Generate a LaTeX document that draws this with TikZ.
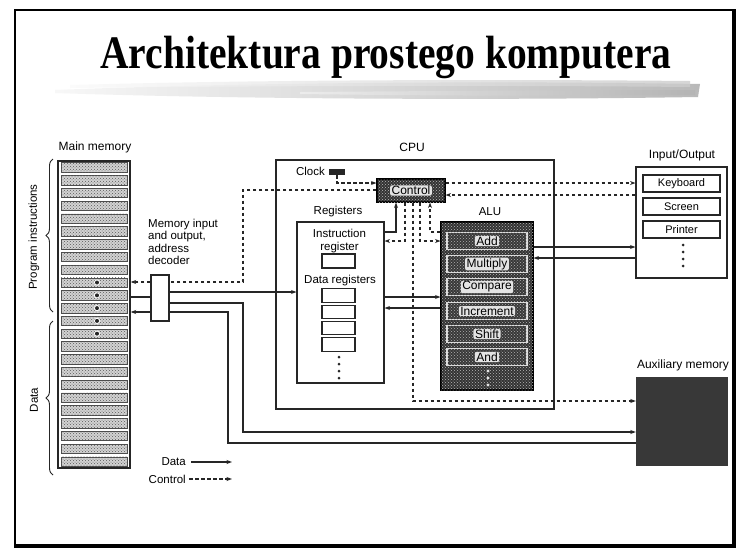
\documentclass[tikz,border=0pt]{standalone}
\usepackage{graphicx}
\usepackage{fontspec}
\setmainfont{Liberation Sans}
\newfontfamily\titlefont{Liberation Serif}
\usetikzlibrary{arrows.meta,patterns,decorations.pathreplacing,calc}
\begin{document}
\begin{tikzpicture}[x=1pt,y=-1pt,
  >={Stealth[length=5.5pt,width=4pt]},
  ln/.style={line width=1.1pt, draw=black!85},
  ctl/.style={ln, dash pattern=on 3.5pt off 2.5pt},
  lab/.style={font=\fontsize{12}{14}\selectfont, inner sep=0pt},
  sm/.style={font=\fontsize{11.5}{12.6}\selectfont, inner sep=0pt},
  box/.style={draw=black!85, line width=1.1pt, inner sep=0pt, fill=white},
  dark/.style={draw=black, line width=1.1pt, inner sep=0pt, fill=black!80,
     postaction={pattern=crosshatch dots, pattern color=gray!55}},
  aluop/.style={draw=gray!25, line width=1.4pt, fill=black!78, inner sep=0pt,
     minimum width=80pt, minimum height=17pt,
     postaction={pattern=crosshatch dots, pattern color=gray!60}},
  optext/.style={fill=gray!22, rounded corners=2pt, inner xsep=1.5pt, inner ysep=0.8pt,
     font=\fontsize{12}{13}\selectfont},
  cell/.style={draw=black!70, line width=0.6pt, fill=gray!35,
     postaction={pattern=crosshatch dots, pattern color=black!65}},
  dotm/.style={fill=black!85}
]
\useasboundingbox (0,0) rectangle (747,555);
\fill[white] (0,0) rectangle (747,555);

% frame
\draw[line width=1.8pt] (15,10) rectangle (733,545);
\draw[line width=3.5pt] (734,9) -- (734,546.5) -- (14,546.5);

% brush stroke
\shade[left color=gray!6, right color=gray!55] (55,90) .. controls (200,84) and (450,80) .. (700,84) -- (698,97) .. controls (450,101) and (200,98) .. (55,93) -- cycle;
\shade[left color=gray!4, right color=gray!40, opacity=0.8] (70,85) .. controls (250,80) and (480,79) .. (690,81) -- (690,87) .. controls (480,85) and (250,86) .. (70,88) -- cycle;
\shade[left color=gray!10, right color=gray!60, opacity=0.7] (300,92) .. controls (450,91) and (560,90) .. (695,90) -- (695,95) .. controls (560,96) and (450,96) .. (300,94) -- cycle;

% title
\node[font=\titlefont\bfseries\fontsize{39.5}{40}\selectfont, inner sep=0pt, anchor=base] (title) at (386,68) {\scalebox{1}[1.18]{Architektura prostego komputera}};

% main memory
\node[lab] (meml) at (95,147) {Main memory};
\node[box, line width=1.3pt, minimum width=72pt, minimum height=307pt] (mem) at (94,314.5) {};
\foreach \i in {0,...,23}{
  \pgfmathsetmacro\yt{161+\i*12.792}
  \draw[cell] (61,\yt+1.7) rectangle (127,\yt+11.1);
}
\foreach \i in {9,...,13}{
  \fill[white] (97,{161+\i*12.792+6.4}) circle (3pt);
  \fill[dotm] (97,{161+\i*12.792+6.4}) circle (2pt);
}
\draw[ln, line width=0.9pt, decorate, decoration={brace, amplitude=7pt}] (53,312) -- (53,159);
\draw[ln, line width=0.9pt, decorate, decoration={brace, amplitude=7pt}] (53,475) -- (53,321);
\node[sm, rotate=90] (progl) at (34,237) {Program instructions};
\node[sm, rotate=90] (datal) at (34,400) {Data};

% decoder label
\node[sm, anchor=north west, align=left] (decl) at (148,218.5) {Memory input\\and output,\\address\\decoder};

% CPU
\node[box, minimum width=278pt, minimum height=249pt] (cpu) at (415,284.5) {};
\node[lab] (cpul) at (412,147) {CPU};

% registers
\node[box, minimum width=87pt, minimum height=161pt] (reg) at (340.5,302.5) {};
\node[sm] (regl) at (338,212) {Registers};
\node[sm, align=center] (irl) at (339.5,241) {Instruction\\register};
\node[box, minimum width=33pt, minimum height=14pt] (ir) at (338.5,261) {};
\node[sm] (drl) at (340,281) {Data registers};
\foreach \k/\yy in {1/295.5, 2/311.8, 3/328.1, 4/344.4}{
  \node[box, minimum width=33pt, minimum height=13.5pt] (dr\k) at (338.5,\yy) {};
}
\foreach \yy in {357,364,371,378}{ \fill[dotm] (339,\yy) circle (1.5pt); }

% ALU
\node[dark, minimum width=92pt, minimum height=168pt] (alu) at (487,306) {};
\node[sm] (alul) at (490,212) {ALU};
\foreach \nm/\txt/\yy in {add/Add/241, mul/Multiply/264, cmp/Compare/287, inc/Increment/311, shf/Shift/334, and/And/357}{
  \node[aluop] (\nm) at (487,\yy) {};
  \node[optext] (\nm t) at (\nm) {\txt};
}
\foreach \yy in {371,378,385}{ \fill[gray!20] (488,\yy) circle (1.6pt); }

% control and clock
\node[dark, minimum width=68pt, minimum height=23pt] (ctrl) at (411,190.5) {};
\node[optext] (ctrlt) at (ctrl) {Control};
\node[inner sep=0pt, fill=black!85, minimum width=16pt, minimum height=6pt] (clock) at (337,172) {};
\node[sm, anchor=east] (clockl) at (325,171) {Clock};

% input/output
\node[box, minimum width=91pt, minimum height=111pt] (io) at (681.5,222.5) {};
\node[lab] (iol) at (682,155) {Input/Output};
\node[box, font=\fontsize{11}{12}\selectfont, minimum width=77pt, minimum height=17pt] (kb) at (681.5,183.5) {Keyboard};
\node[box, font=\fontsize{11}{12}\selectfont, minimum width=77pt, minimum height=17pt] (scr) at (681.5,206.5) {Screen};
\node[box, font=\fontsize{11}{12}\selectfont, minimum width=77pt, minimum height=17pt] (prn) at (681.5,229.5) {Printer};
\foreach \yy in {245,252,259,266}{ \fill[dotm] (683,\yy) circle (1.5pt); }

% auxiliary memory
\node[inner sep=0pt, fill=black!78, minimum width=92pt, minimum height=89pt] (aux) at (682,421.5) {};
\node[lab] (auxl) at (683,365) {Auxiliary memory};

% ---- connectors ----
% clock -> control
\draw[ctl,->] (clock.south) -- (clock.south |- 0,183) -- (ctrl.west |- 0,183);
% control -> memory
\draw[ctl,->] (ctrl.west |- 0,190) -- (243,190) -- (243,282) -- (mem.east |- 0,282);
% memory <-> decoder
\draw[ln] (mem.east |- 0,297) -- (151,297);
\draw[ln,->] (151,312) -- (mem.east |- 0,312);
% decoder -> registers
\draw[ln,->] (169,292) -- (reg.west |- 0,292);
% decoder -> aux
\draw[ln,->] (169,303) -- (243,303) -- (243,432) -- (aux.west |- 0,432);
\draw[ln] (169,312) -- (228,312) -- (228,443) -- (aux.west |- 0,443);
% decoder box on top
\node[box, minimum width=18pt, minimum height=46pt] (dec) at (160,298) {};

% registers <-> control
\draw[ln,->] (reg.east |- 0,232) -- (396,232) -- (396,0 |- ctrl.south);
\draw[ctl,->] (405,0 |- ctrl.south) -- (405,241) -- (reg.east |- 0,241);
% control -> aux
\draw[ctl,->] (413,0 |- ctrl.south) -- (413,401) -- (aux.west |- 0,401);
% control <-> ALU
\draw[ctl,->] (420,0 |- ctrl.south) -- (420,241) -- (alu.west |- 0,241);
\draw[ctl,->] (alu.west |- 0,232) -- (430,232) -- (430,0 |- ctrl.south);
% control <-> I/O
\draw[ctl,->] (ctrl.east |- 0,183) -- (io.west |- 0,183);
\draw[ctl,->] (io.west |- 0,195) -- (ctrl.east |- 0,195);
% ALU <-> I/O
\draw[ln,->] (alu.east |- 0,247) -- (io.west |- 0,247);
\draw[ln,->] (io.west |- 0,258) -- (alu.east |- 0,258);
% registers <-> ALU
\draw[ln,->] (reg.east |- 0,297) -- (alu.west |- 0,297);
\draw[ln,->] (alu.west |- 0,308) -- (reg.east |- 0,308);

% legend
\node[sm, anchor=east] (legd) at (186,462) {Data};
\node[sm, anchor=east] (legc) at (186,479) {Control};
\draw[ln,->] ([xshift=5pt]legd.east) -- ++(41,0) coordinate (legde);
\draw[ctl,->] ([xshift=3pt]legc.east) -- ++(43,0) coordinate (legce);
\end{tikzpicture}
\end{document}
